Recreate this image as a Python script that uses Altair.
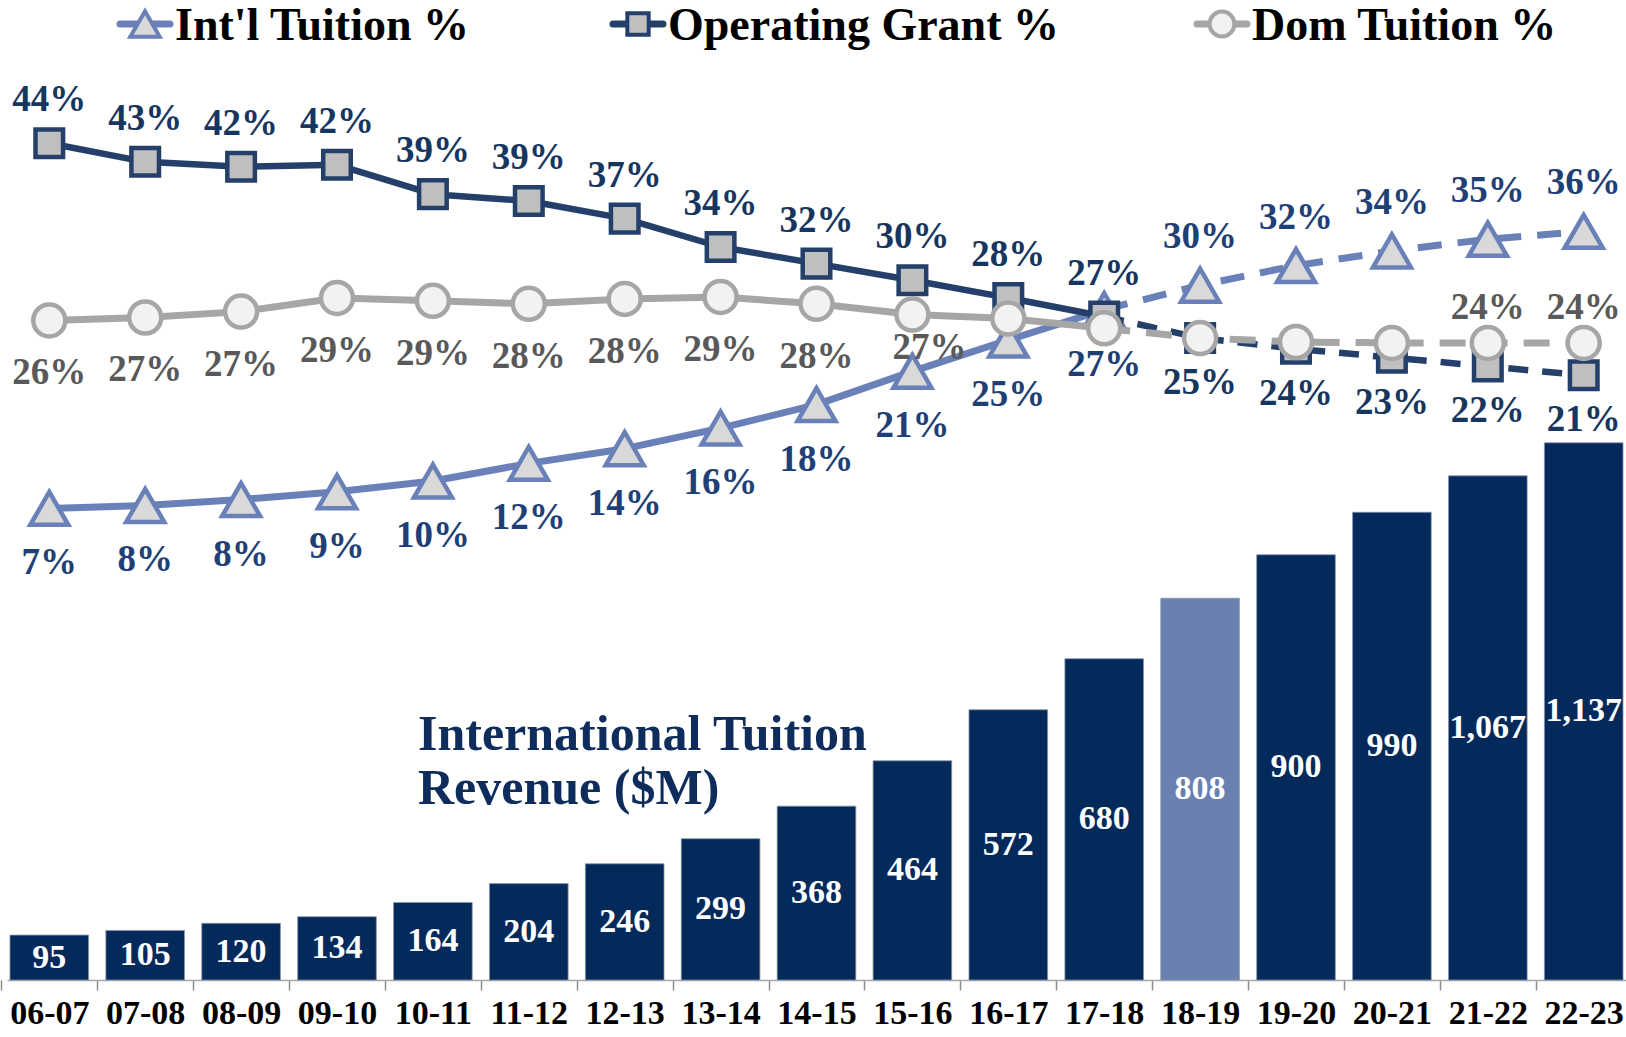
import altair as alt
import pandas as pd

# ---------------- data ----------------
years = ['06-07', '07-08', '08-09', '09-10', '10-11', '11-12', '12-13', '13-14', '14-15',
         '15-16', '16-17', '17-18', '18-19', '19-20', '20-21', '21-22', '22-23']
revenue = [95, 105, 120, 134, 164, 204, 246, 299, 368, 464, 572, 680, 808, 900, 990, 1067, 1137]
revenue_labels = ['95', '105', '120', '134', '164', '204', '246', '299', '368', '464', '572',
                  '680', '808', '900', '990', '1,067', '1,137']

intl_pct = [7.1, 7.4, 8.0, 8.8, 9.9, 11.7, 13.2, 15.3, 17.7, 21.1, 24.3, 27.4, 29.9, 31.9, 33.4, 34.6, 35.4]
op_pct = [44.4, 42.5, 42.0, 42.2, 39.2, 38.5, 36.7, 33.8, 32.1, 30.4, 28.6, 26.7, 24.5, 23.4, 22.5, 21.6, 20.7]
dom_pct = [26.3, 26.6, 27.2, 28.6, 28.3, 28.0, 28.5, 28.7, 28.0, 26.9, 26.5, 25.5, 24.5, 24.1, 24.0, 24.0, 24.0]

intl_labels = ['7%', '8%', '8%', '9%', '10%', '12%', '14%', '16%', '18%', '21%', '25%', '27%',
               '30%', '32%', '34%', '35%', '36%']
op_labels = ['44%', '43%', '42%', '42%', '39%', '39%', '37%', '34%', '32%', '30%', '28%', '27%',
             '25%', '24%', '23%', '22%', '21%']
dom_labels = ['26%', '27%', '27%', '29%', '29%', '28%', '28%', '29%', '28%', '27%', '', '', '',
              '', '', '24%', '24%']

intl_label_pos = ['below'] * 12 + ['above'] * 5
op_label_pos = ['above'] * 12 + ['below'] * 5
dom_label_pos = ['below'] * 9 + ['shift'] + ['none'] * 5 + ['above'] * 2

series_names = ["Int'l Tuition %", "Operating Grant %", "Dom Tuition %"]
highlight_year = '18-19'
forecast_start = '17-18'
annotation_text = "International Tuition\nRevenue ($M)"

# ---------------- styles ----------------
FONT = 'Liberation Serif'
NAVY_BAR = '#032A5B'
LIGHT_BAR = '#6A80B1'
INTL_C = '#6A80B9'
OP_C = '#24406A'
DOM_C = '#A6A6A6'
OP_LBL = '#17365F'
INTL_LBL = '#1F4077'
DOM_LBL = '#595959'

W, H = 1619, 980
BAR_DOMAIN = [0, 2074.2]
PCT_DOMAIN = [-41.07, 59.03]

bars_df = pd.DataFrame({'year': years, 'revenue': revenue, 'rlabel': revenue_labels})

rows = []
for name, vals, labs, poss in zip(series_names,
                                  [intl_pct, op_pct, dom_pct],
                                  [intl_labels, op_labels, dom_labels],
                                  [intl_label_pos, op_label_pos, dom_label_pos]):
    for i, yr in enumerate(years):
        rows.append(dict(series=name, year=yr, idx=i, value=vals[i], label=labs[i], pos=poss[i]))
lines_df = pd.DataFrame(rows)
split = years.index(forecast_start)

X_SCALE = alt.Scale(domain=years, paddingInner=0.18, paddingOuter=0.031)
step = W / (len(years) - 0.18 + 2 * 0.031)
gap = step * 0.18

x_axis = alt.Axis(title=None, labelFont=FONT, labelFontSize=34, labelFontWeight='bold',
                  labelColor='black', labelAngle=0, bandPosition=0, tickOffset=-gap / 2,
                  labelOffset=gap / 2, tickSize=10, tickColor='#8C8C8C', tickWidth=1.5,
                  domainColor='#A6A6A6', domainWidth=1.5, labelPadding=6, grid=False)

x_enc = alt.X('year:N', sort=years, scale=X_SCALE, axis=x_axis)
y_pct = alt.Y('value:Q', scale=alt.Scale(domain=PCT_DOMAIN, nice=False, zero=False), axis=None)

layers = []

# bars
bars = alt.Chart(bars_df).mark_bar(stroke='#8795AC', strokeWidth=0.8).encode(
    x=x_enc,
    y=alt.Y('revenue:Q', scale=alt.Scale(domain=BAR_DOMAIN, nice=False, zero=True), axis=None),
    color=alt.condition(alt.datum.year == highlight_year, alt.value(LIGHT_BAR), alt.value(NAVY_BAR)),
)
layers.append(bars)

bar_text = alt.Chart(bars_df).transform_calculate(mid='datum.revenue / 2').mark_text(
    font=FONT, fontSize=34, fontWeight='bold', color='white', baseline='middle'
).encode(
    x=x_enc,
    y=alt.Y('mid:Q', scale=alt.Scale(domain=BAR_DOMAIN, nice=False, zero=True), axis=None),
    text='rlabel:N',
)
layers.append(bar_text)

# annotation
ann_df = pd.DataFrame({'t': [annotation_text]})
ann = alt.Chart(ann_df).mark_text(
    font=FONT, fontSize=50, fontWeight='bold', color='#0E2D5C', align='left',
    baseline='alphabetic', lineBreak='\n', lineHeight=54
).encode(x=alt.value(411), y=alt.value(750), text='t:N')
layers.append(ann)

series_style = {
    "Int'l Tuition %": dict(color=INTL_C, width=7, dash=[24, 16], shape='triangle-up', size=1444,
                             fill='#D9D9D9', stroke=INTL_C, sw=4.5),
    "Operating Grant %": dict(color=OP_C, width=6.5, dash=[20, 14], shape='square', size=760,
                               fill='#BFBFBF', stroke=OP_C, sw=4.5),
    "Dom Tuition %": dict(color=DOM_C, width=7, dash=[26, 16], shape='circle', size=1024,
                           fill='#F2F2F2', stroke=DOM_C, sw=4.5),
}

for name in series_names:
    st = series_style[name]
    base = alt.Chart(lines_df).transform_filter(alt.datum.series == name)
    solid = base.transform_filter(alt.datum.idx <= split).mark_line(
        color=st['color'], strokeWidth=st['width'], strokeJoin='round').encode(x=x_enc, y=y_pct)
    dashed = base.transform_filter(alt.datum.idx >= split).mark_line(
        color=st['color'], strokeWidth=st['width'], strokeDash=st['dash']).encode(x=x_enc, y=y_pct)
    pts = base.mark_point(shape=st['shape'], size=st['size'], filled=True, fill=st['fill'],
                          stroke=st['stroke'], strokeWidth=st['sw'], opacity=1).encode(x=x_enc, y=y_pct)
    layers += [solid, dashed, pts]

label_specs = [
    ("Int'l Tuition %", 'below', INTL_LBL, 0, 55),
    ("Int'l Tuition %", 'above', INTL_LBL, 0, -48),
    ("Operating Grant %", 'above', OP_LBL, 0, -43),
    ("Operating Grant %", 'below', OP_LBL, 0, 45),
    ("Dom Tuition %", 'below', DOM_LBL, 0, 53),
    ("Dom Tuition %", 'shift', DOM_LBL, 17, 33),
    ("Dom Tuition %", 'above', DOM_LBL, 0, -35),
]
for name, pos, col, dx, dy in label_specs:
    t = alt.Chart(lines_df).transform_filter(
        (alt.datum.series == name) & (alt.datum.pos == pos)
    ).mark_text(font=FONT, fontSize=37, fontWeight='bold', color=col, baseline='middle',
                dx=dx, dy=dy).encode(x=x_enc, y=y_pct, text='label:N')
    layers.append(t)

# legend (drawn manually: line + marker + label)
legend_centers = [138, 631, 1215]
for name, cx in zip(series_names, legend_centers):
    st = series_style[name]
    one = pd.DataFrame({'name': [name]})
    seg = alt.Chart(one).mark_rule(color=st['color'], strokeWidth=7, strokeCap='round').encode(
        x=alt.value(cx - 25), x2=alt.value(cx + 25), y=alt.value(24))
    mk = alt.Chart(one).mark_point(shape=st['shape'], size=st['size'] * 0.6, filled=True,
                                   fill=st['fill'], stroke=st['stroke'], strokeWidth=4,
                                   opacity=1).encode(x=alt.value(cx), y=alt.value(24))
    tx = alt.Chart(one).mark_text(font=FONT, fontSize=46, fontWeight='bold', color='black',
                                  align='left', baseline='middle').encode(
        x=alt.value(cx + 30), y=alt.value(26), text='name:N')
    layers += [seg, mk, tx]

chart = alt.layer(*layers).resolve_scale(y='independent').properties(
    width=W, height=H,
    autosize=alt.AutoSizeParams(type='none'),
    padding={'left': 7, 'right': 0, 'top': 0, 'bottom': 57},
    background='white',
).configure_view(stroke=None)

chart.save("out.html", embed_options={"renderer": "svg", "actions": False})
